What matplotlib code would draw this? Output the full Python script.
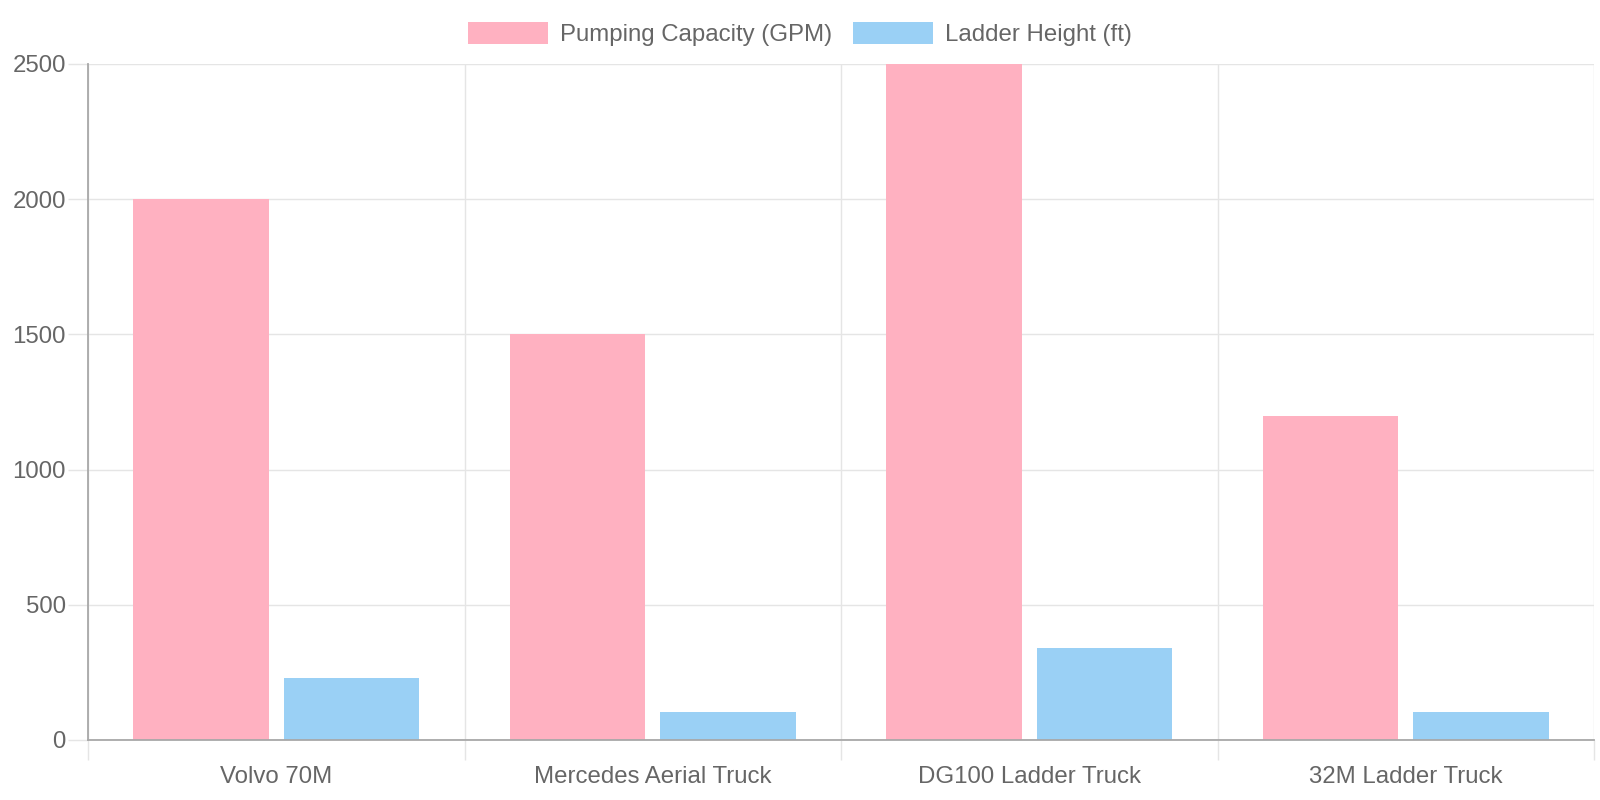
import matplotlib
matplotlib.use("Agg")
import matplotlib.pyplot as plt
import numpy as np

categories = ["Volvo 70M", "Mercedes Aerial Truck", "DG100 Ladder Truck", "32M Ladder Truck"]
pumping_capacity = [2000, 1500, 2500, 1200]
ladder_height = [230, 105, 340, 105]
series_labels = ["Pumping Capacity (GPM)", "Ladder Height (ft)"]
y_ticks = [0, 500, 1000, 1500, 2000, 2500]

plt.rcParams['font.family'] = ['Liberation Sans', 'DejaVu Sans']
FS = 17.3
TXT = '#666666'
GRID = '#e5e5e5'
AXIS = '#a8a8a8'
PINK = '#FFB1C1'
BLUE = '#9AD0F5'

fig = plt.figure(figsize=(16, 8), dpi=100)
ax = fig.add_axes([88/1600, 1-740/800, (1594-88)/1600, (740-64)/800])

x = np.arange(len(categories))
w = 0.36
b1 = ax.bar(x - 0.2, pumping_capacity, width=w, color=PINK, label=series_labels[0], zorder=2)
b2 = ax.bar(x + 0.2, ladder_height, width=w, color=BLUE, label=series_labels[1], zorder=2)

ax.set_xlim(-0.5, len(categories) - 0.5)
ax.set_ylim(0, 2500)
ax.set_yticks(y_ticks)
ax.set_yticklabels([str(v) for v in y_ticks])
ax.set_xticks(x)
ax.set_xticklabels(categories)
ax.set_xticks(np.arange(len(categories) + 1) - 0.5, minor=True)

ax.tick_params(axis='y', which='major', length=14.4, width=1, color=GRID, pad=1.5,
               labelsize=FS, labelcolor=TXT)
ax.tick_params(axis='x', which='major', length=0, pad=18.5, labelsize=FS, labelcolor=TXT)
ax.tick_params(axis='x', which='minor', length=14.4, width=1, color=GRID)

ax.grid(axis='y', which='major', color=GRID, linewidth=1, zorder=0)
ax.grid(axis='x', which='minor', color=GRID, linewidth=1, zorder=0)
ax.set_axisbelow(True)

for s in ['top', 'right']:
    ax.spines[s].set_visible(False)
for s in ['left', 'bottom']:
    ax.spines[s].set_color(AXIS)
    ax.spines[s].set_linewidth(1.3)
    ax.spines[s].set_zorder(3)

leg = fig.legend(handles=[b1, b2], labels=series_labels, loc='center',
                 bbox_to_anchor=(0.5, 1-34/800), ncol=2, frameon=False,
                 fontsize=FS, handlelength=80/24, handleheight=1.0,
                 handletextpad=0.5, columnspacing=0.85, borderpad=0, borderaxespad=0)
for t in leg.get_texts():
    t.set_color(TXT)

fig.savefig("out.png", dpi=100)
